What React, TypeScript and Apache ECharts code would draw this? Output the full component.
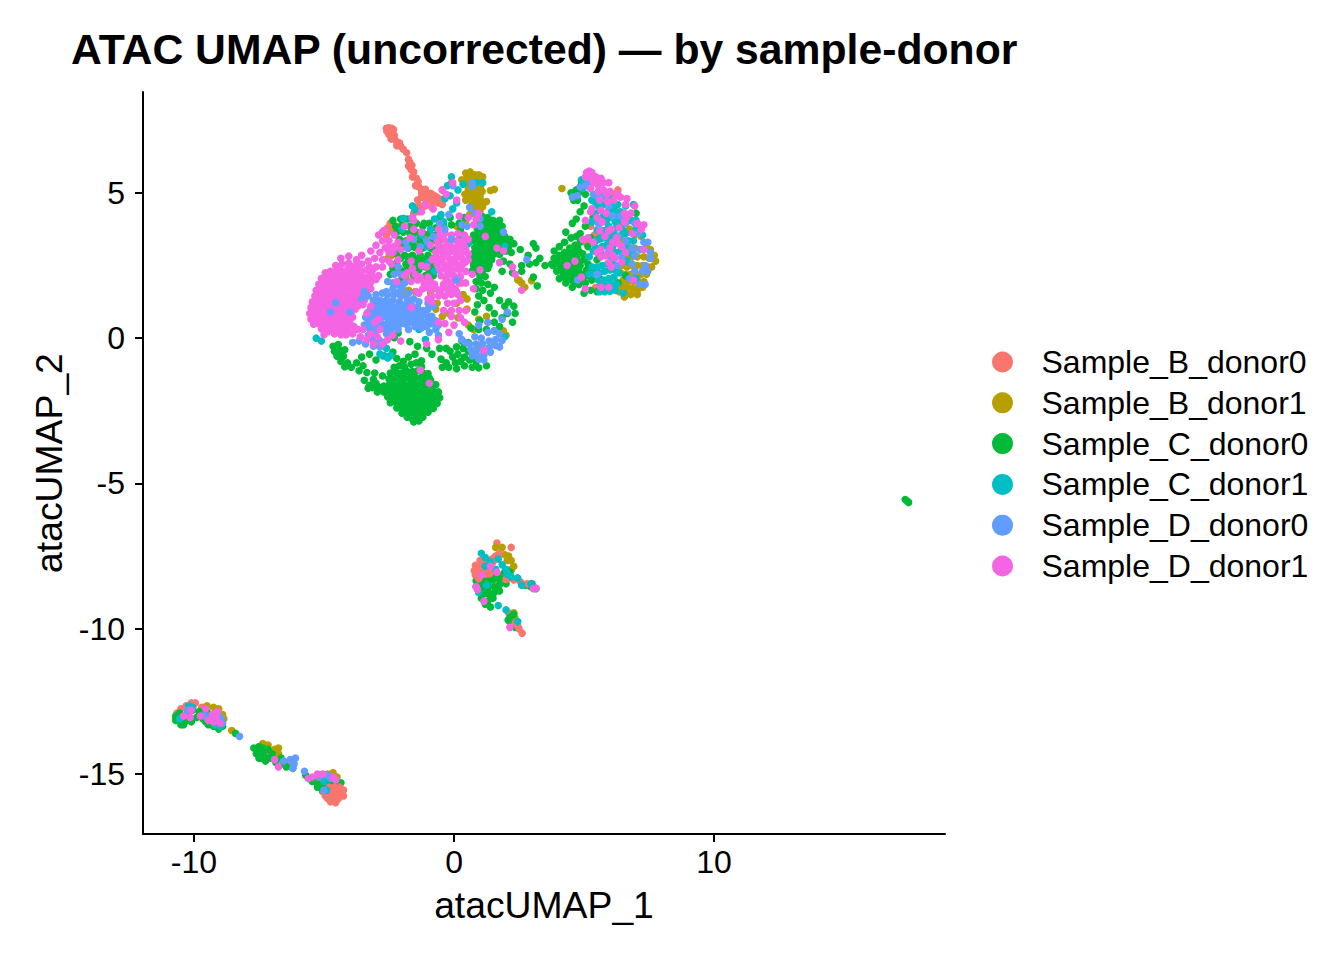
import React, { useEffect, useRef } from "react";
import * as echarts from "echarts";

const titleText = "ATAC UMAP (uncorrected) — by sample-donor";
const xTicks = [-10, 0, 10];
const yTicks = [-15, -10, -5, 0, 5];
const sampleNames = ["Sample_B_donor0", "Sample_B_donor1", "Sample_C_donor0", "Sample_C_donor1", "Sample_D_donor0", "Sample_D_donor1"];
const sampleColors = ["#F8766D", "#B79F00", "#00BA38", "#00BFC4", "#619CFF", "#F564E3"];

const sampleB0 = [
[-2.6,7.22],[-2.5,7.24],[-2.4,7.22],[-2.33,7.18],[-2.58,7.12],[-2.46,7.12],[-2.36,7.08],[-2.5,7.0],[-2.4,6.95],[-2.3,6.98],[-2.42,6.85],[-2.28,6.85],[-2.2,6.75],[-2.1,6.72],[-2.2,6.62],[-2.05,6.6],[-1.95,6.5],[-1.82,6.38],[-1.75,6.15],[-1.7,6.05],[-1.75,5.92],[-1.62,5.95],[-1.65,5.8],[-1.55,5.72],[-1.6,5.55],[-1.45,5.5],[-1.38,5.38],[-1.48,5.25],[-1.35,5.2],[-1.2,5.1],[-1.1,5.12],[-1.25,5.0],[-1.05,5.0],[-0.9,4.98],[-0.78,4.92],[-0.65,4.85],[-0.5,4.78],[-1.4,4.75],[-1.25,4.85],[-1.1,4.78],[-0.95,4.75],[-0.8,4.7],[-0.6,4.65],[-0.45,4.6],[-1.5,4.5],[-1.3,4.55],[-1.1,4.55],[-0.85,4.5],[-1.55,4.3],[-1.35,4.35],
[-2.45,3.95],[-2.55,3.8],[-2.35,3.85],[-2.75,3.65],[-2.6,3.55],[-2.45,3.7],[0.3,1.9],[2.5,2.0],
[4.85,5.2],[5.35,5.55],[5.55,5.4],[5.8,4.1],[5.25,3.85],[5.7,3.7],[5.45,1.75],[6.2,4.4],[7.05,1.65],[6.3,5.1],[6.15,4.95],[5.4,3.55],[5.1,3.25],[5.95,3.3],
[1.65,-7.05],[2.2,-7.2],[2.1,-9.45],
[-10.65,-12.9],[-10.5,-12.75],[-10.3,-12.65],[-10.1,-12.55],[-9.95,-12.55],[-10.7,-13.05],[-9.7,-12.7],[-7.1,-14.25],[-6.8,-14.35],[-6.35,-14.65],
];

const sampleB0Top = [
[0.82,-7.82],[1.0,-7.75],[1.18,-7.78],[0.78,-8.0],[0.95,-7.95],[1.12,-7.95],[1.3,-7.92],[0.82,-8.15],[1.0,-8.12],[1.2,-8.12],[1.38,-8.1],[0.95,-8.28],[1.5,-7.7],[1.6,-7.5],[1.75,-7.42],[1.45,-7.6],[1.0,-7.65],[2.0,-8.3],[2.3,-8.32],[2.55,-8.38],[2.8,-8.45],[2.35,-9.8],[2.5,-10.0],[2.62,-10.15],[2.45,-9.9],
[-5.0,-15.62],[-4.8,-15.45],[-4.6,-15.45],[-4.4,-15.45],[-4.25,-15.55],[-4.95,-15.75],[-4.75,-15.65],[-4.55,-15.65],[-4.35,-15.68],[-4.25,-15.75],[-4.85,-15.85],[-4.65,-15.82],[-4.45,-15.85],[-4.75,-15.95],[-4.55,-15.98],
];

const sampleB1 = [
[0.45,5.68],[0.62,5.72],[0.8,5.62],[0.95,5.62],[1.1,5.55],[0.3,5.45],[0.5,5.5],[0.7,5.5],[0.9,5.45],[1.05,5.4],[0.5,5.3],[0.7,5.3],[0.88,5.28],[1.02,5.22],[1.4,5.08],[0.55,5.12],[0.72,5.1],[0.9,5.08],[1.08,5.05],[0.42,4.95],[0.6,4.92],[0.8,4.92],[1.0,4.88],[0.45,4.75],[0.65,4.72],[0.85,4.72],[1.05,4.72],[1.25,4.7],[0.7,4.55],[0.9,4.55],[1.1,4.52],[0.8,4.35],[1.0,4.35],[-0.1,5.35],[-0.45,5.1],[1.55,5.12],
[2.98,1.98],[2.72,1.75],[2.6,1.9],[2.45,2.0],[-2.4,2.85],[-2.1,2.4],[-1.55,3.15],[-1.75,2.8],[-0.6,3.25],[-1.35,3.4],[-1.4,3.15],[-0.3,2.0],[0.1,1.2],[0.5,1.0],[0.95,0.65],[1.05,-0.25],[1.55,-0.2],[-0.9,1.55],[-0.65,1.2],[-2.1,1.9],[-1.85,2.1],[-1.75,1.65],[-0.45,0.75],[1.9,0.25],
[-2.55,2.75],[-2.2,2.35],[-2.0,1.75],[-1.85,1.5],[-1.5,1.6],[-0.7,1.0],[-0.2,0.85],[0.15,0.7],[0.35,1.5],[0.5,1.35],[0.55,0.45],[0.75,0.3],[1.25,0.75],[2.0,0.1],[-1.15,3.55],[-1.0,3.25],[-0.8,3.05],[-1.55,3.6],[0.45,4.0],[0.6,4.25],[0.1,3.85],[-2.85,0.6],[-2.5,0.3],
[4.15,5.15],[6.45,3.55],[6.5,3.3],[6.75,3.75],[6.95,3.55],[7.2,3.5],[7.4,3.25],[7.55,3.05],[7.7,2.85],[7.75,2.65],[6.55,3.05],[6.75,3.1],[6.95,3.1],[7.15,3.05],[6.65,2.75],[6.85,2.8],[7.05,2.8],[7.3,2.8],[7.5,2.75],[6.45,2.5],[6.65,2.45],[6.85,2.5],[7.05,2.5],[7.25,2.5],[7.45,2.45],[7.6,2.45],[6.4,2.25],[6.6,2.2],[6.8,2.2],[7.0,2.2],[7.2,2.2],[7.4,2.2],[6.5,2.0],[6.7,1.95],[6.9,1.95],[7.1,1.95],[7.3,1.95],[6.45,1.8],[6.65,1.75],[6.85,1.72],[7.05,1.72],[7.25,1.75],[6.35,1.6],[6.6,1.55],[6.8,1.5],[7.05,1.5],[6.55,1.42],[6.3,1.7],
[1.6,-7.2],[1.85,-7.2],[2.1,-7.5],[2.2,-7.65],[2.3,-7.85],[2.05,-7.65],[1.95,-7.45],[2.22,-7.95],[1.7,-7.45],[2.1,-8.25],[2.3,-9.45],[2.35,-9.65],
[-9.25,-12.7],[-9.05,-12.75],[-9.5,-12.65],[-8.9,-12.95],[-8.85,-13.1],[-9.45,-12.95],[-8.55,-13.5],[-7.35,-13.95],[-7.15,-14.0],[-6.9,-14.15],[-6.75,-14.1],[-6.75,-14.3],[-5.1,-15.05],[-4.85,-15.0],[-4.65,-14.95],[-4.5,-15.1],[-5.2,-15.2],[-5.0,-15.25],[-4.7,-15.2],
];

const sampleC0 = [
[-4.65,-0.28],[-4.45,-0.22],[-4.6,-0.45],[-4.4,-0.42],[-4.2,-0.4],[-4.5,-0.62],[-4.25,-0.62],[-4.35,-0.8],[-4.1,-0.85],[-4.2,-0.98],[-3.95,-1.0],[-3.75,-0.85],[-3.5,-0.95],[-3.65,-1.12],[-3.35,-1.18],[-3.45,-1.45],[-3.1,-1.42],[-3.25,-1.62],[-3.0,-1.55],[-3.05,-1.2],[-2.75,-1.3],[-3.55,-0.65],[-3.25,-0.55],[-3.0,-0.75],[-2.7,-0.6],[-2.35,-0.48],[-2.2,-0.7],[-1.95,-0.8],[-1.75,-0.65],[-1.5,-0.55],[-1.25,-0.78],[-1.05,-0.35],[-0.85,-0.55],[-2.3,0.02],[-2.15,0.18],[-1.7,-0.12],[-1.4,-0.28],
[-2.3,-1.0],[-2.1,-0.95],[-1.9,-1.0],[-1.65,-0.9],[-1.45,-0.85],[-1.25,-0.98],[-2.45,-1.2],[-2.2,-1.18],[-2.0,-1.2],[-1.8,-1.15],[-1.6,-1.15],[-1.4,-1.12],[-1.2,-1.2],[-1.0,-1.22],[-3.15,-1.7],[-2.9,-1.68],[-2.7,-1.65],[-2.5,-1.4],[-2.3,-1.4],[-2.1,-1.4],[-1.9,-1.38],[-1.7,-1.38],[-1.5,-1.35],[-1.3,-1.38],[-1.1,-1.42],[-0.9,-1.45],[-3.3,-1.72],[-2.95,-1.85],[-2.7,-1.85],[-2.5,-1.6],[-2.3,-1.62],[-2.1,-1.6],[-1.9,-1.6],[-1.7,-1.58],[-1.5,-1.58],[-1.3,-1.58],[-1.1,-1.6],[-0.9,-1.62],[-0.7,-1.6],[-0.95,-1.38],[-2.6,-1.82],[-2.4,-1.82],[-2.2,-1.82],[-2.0,-1.8],[-1.8,-1.8],[-1.6,-1.8],[-1.4,-1.78],[-1.2,-1.8],[-1.0,-1.82],[-0.8,-1.82],[-0.6,-1.85],[-2.55,-2.02],[-2.35,-2.02],[-2.15,-2.0],[-1.95,-2.0],[-1.75,-2.0],[-1.55,-2.0],[-1.35,-2.0],[-1.15,-2.0],[-0.95,-2.02],[-0.75,-2.02],[-0.55,-2.05],[-2.45,-2.22],[-2.25,-2.2],[-2.05,-2.2],[-1.85,-2.2],[-1.65,-2.2],[-1.45,-2.2],[-1.25,-2.2],[-1.05,-2.2],[-0.85,-2.22],[-0.65,-2.25],[-2.2,-2.4],[-2.0,-2.4],[-1.8,-2.4],[-1.6,-2.4],[-1.4,-2.4],[-1.2,-2.4],[-1.0,-2.4],[-0.8,-2.42],[-2.0,-2.58],[-1.8,-2.58],[-1.6,-2.6],[-1.4,-2.58],[-1.2,-2.58],[-1.0,-2.55],[-1.8,-2.72],[-1.6,-2.78],[-1.4,-2.75],[-1.2,-2.72],[-1.55,-2.88],[-1.35,-2.85],
[-2.05,-1.3],[-1.6,-1.28],[-1.2,-1.3],[-2.4,-1.5],[-2.0,-1.5],[-1.6,-1.48],[-1.2,-1.48],[-2.5,-1.72],[-2.1,-1.72],[-1.7,-1.7],[-1.3,-1.7],[-0.9,-1.72],[-2.3,-1.92],[-1.9,-1.9],[-1.5,-1.9],[-1.1,-1.9],[-0.7,-1.92],[-2.15,-2.1],[-1.75,-2.1],[-1.35,-2.1],[-0.95,-2.12],[-2.1,-2.3],[-1.7,-2.3],[-1.3,-2.3],[-0.9,-2.32],[-1.9,-2.5],[-1.5,-2.5],[-1.1,-2.5],[-1.7,-2.68],[-1.3,-2.65],
[-0.5,-0.72],[-0.3,-0.85],[-0.45,-1.0],[-0.2,-1.0],[-0.05,-0.65],[0.15,-0.55],[0.05,-0.85],[0.25,-0.8],[0.4,-0.65],[0.55,-0.45],[0.6,-0.75],[0.85,-0.8],[1.05,-0.7],[1.25,-0.95],[0.95,-1.02],[0.7,-1.0],[0.4,-0.95],[0.1,-1.05],[-0.15,-0.45],[0.1,-0.3],[0.35,-0.35],[-0.55,-0.35],[-0.3,-0.35],[0.3,-0.1],[0.55,-0.15],
[0.95,4.12],[1.1,4.18],[1.3,4.15],[1.5,4.05],[1.75,4.05],[1.0,3.95],[1.2,3.95],[1.4,3.9],[1.65,3.85],[1.85,3.85],[0.9,3.75],[1.1,3.72],[1.3,3.72],[1.5,3.7],[1.7,3.65],[0.75,3.55],[0.95,3.52],[1.15,3.52],[1.35,3.5],[1.55,3.5],[1.75,3.48],[1.95,3.5],[2.15,3.4],[0.65,3.35],[0.85,3.32],[1.05,3.32],[1.25,3.3],[1.45,3.3],[1.65,3.3],[1.85,3.32],[2.05,3.25],[2.3,3.25],[0.8,3.12],[1.0,3.12],[1.2,3.1],[1.4,3.1],[1.6,3.12],[1.8,3.1],[2.0,3.05],[0.75,2.92],[0.95,2.92],[1.15,2.9],[1.35,2.9],[1.55,2.9],[1.75,2.88],[0.65,2.72],[0.85,2.72],[1.05,2.7],[1.25,2.72],[1.45,2.7],[0.75,2.52],[0.95,2.5],[1.15,2.52],[1.35,2.52],[0.7,2.32],[0.9,2.3],[1.1,2.32],[1.3,2.4],[1.0,2.12],[1.2,2.12],[0.85,1.95],[1.05,1.9],[1.3,1.85],[1.55,1.75],[0.85,1.7],[1.1,1.65],[1.4,1.55],[0.95,1.45],[1.15,1.3],[1.75,1.3],[1.95,1.1],[0.9,1.15],[1.35,1.05],[1.55,0.85],[2.1,1.25],[2.3,1.1],[2.05,0.85],[2.35,0.85],[2.25,0.55],[1.85,0.7],[1.55,0.55],[1.0,0.6],[0.8,0.9],[0.65,0.35],[0.95,0.3],[1.25,0.3],[1.55,0.25],[1.75,0.4],
[1.3,4.02],[1.6,3.95],[1.2,3.62],[1.6,3.58],[1.05,3.42],[1.45,3.4],[1.85,3.42],[0.9,3.22],[1.3,3.2],[1.7,3.2],[2.1,3.15],[1.05,3.02],[1.45,3.0],[1.85,2.98],[0.95,2.82],[1.35,2.8],[0.85,2.62],[1.25,2.62],[0.85,2.42],[1.2,2.42],[1.0,2.22],
[2.0,3.0],[2.2,2.95],[2.55,3.05],[2.85,2.85],[3.15,3.1],[3.3,2.75],[1.9,2.65],[2.15,2.55],[2.6,2.5],[2.25,2.25],[2.6,2.3],[1.85,2.3],[2.9,2.55],[3.15,2.6],[3.05,3.25],[3.05,2.1],[3.75,2.55],[3.5,2.5],
[-2.35,4.05],[-2.05,4.1],[-1.8,4.1],[-2.25,3.85],[-2.0,3.9],[-1.7,3.85],[-1.45,3.95],[-1.2,3.85],[-0.95,3.95],[-0.7,3.8],[-0.4,3.85],[-0.1,3.9],[0.2,3.95],[-2.2,3.65],[-1.95,3.65],[-1.7,3.62],[-1.45,3.65],[-1.2,3.62],[-0.95,3.6],[-0.7,3.55],[-2.1,3.4],[-1.85,3.35],[-1.6,3.4],[-1.35,3.38],[-1.05,3.35],[-0.8,3.35],[-2.0,3.15],[-1.75,3.1],[-1.5,3.12],[-1.2,3.1],[-0.9,3.1],[-0.7,3.05],[-2.2,2.9],[-1.9,2.85],[-1.6,2.85],[-1.3,2.85],[-1.0,2.85],[-0.7,2.8],[-2.2,2.6],[-1.85,2.55],[-1.5,2.55],[-1.2,2.6],[-0.85,2.5],[-2.0,2.3],[-1.65,2.3],[-1.35,2.35],[-0.95,2.3],[-2.45,2.2],
[-2.0,3.25],[-1.6,3.25],[-1.2,3.25],[-2.05,2.75],[-1.75,2.72],[-1.4,2.72],[-1.1,2.72],[-2.35,2.4],[-1.8,2.42],[-1.45,2.42],[-1.1,2.45],[-2.0,2.05],[-1.55,2.15],[-1.1,2.15],[-0.8,2.15],[-1.15,3.95],[-0.55,4.15],[-0.15,4.15],[0.4,4.15],[0.25,3.72],
[3.85,3.0],[4.05,3.15],[4.25,3.3],[4.5,3.45],[4.7,3.5],[3.85,2.75],[4.05,2.85],[4.25,2.95],[4.45,3.1],[4.65,3.2],[4.85,3.3],[3.8,2.5],[4.0,2.55],[4.2,2.65],[4.4,2.75],[4.6,2.9],[4.8,3.0],[3.95,2.3],[4.15,2.35],[4.35,2.45],[4.55,2.55],[4.75,2.7],[4.05,2.05],[4.25,2.1],[4.45,2.25],[4.65,2.35],[4.85,2.5],[5.0,2.7],[4.3,1.9],[4.5,2.0],[4.7,2.1],[4.9,2.2],[5.1,2.35],[4.55,1.75],[4.8,1.85],[5.05,1.9],[5.3,2.0],[5.25,1.65],[5.5,1.6],[5.0,1.55],[5.6,2.05],[5.35,2.4],[5.5,2.7],
[3.95,2.65],[4.15,2.78],[4.35,2.88],[4.55,3.0],[4.75,3.12],[4.1,2.45],[4.3,2.55],[4.5,2.65],[4.7,2.8],[4.2,2.2],[4.4,2.35],[4.6,2.45],[4.8,2.6],[4.4,2.1],[4.6,2.2],[4.8,2.35],[4.65,1.95],[4.95,2.05],[5.15,2.15],[4.95,2.9],[5.15,2.55],
[4.3,3.65],[4.55,3.95],[4.7,4.1],[4.85,3.6],[5.05,3.85],[5.25,3.45],[5.15,3.15],[4.85,4.35],[5.0,4.55],[4.75,4.75],[4.5,5.0],[4.7,5.1],[4.85,5.05],[4.9,5.3],[5.05,4.95],[4.6,4.75],[5.35,4.15],[5.55,3.4],[5.8,2.85],[6.45,3.85],[6.75,4.05],[7.0,4.3],[6.6,2.15],[6.3,1.9],[3.2,1.8],
[0.9,-8.25],[1.1,-8.25],[1.3,-8.25],[1.5,-8.12],[1.7,-8.15],[1.95,-8.05],[2.15,-8.05],[0.85,-8.35],[1.05,-8.4],[1.3,-8.45],[1.5,-8.32],[1.75,-8.3],[1.95,-8.25],[0.85,-8.55],[1.05,-8.58],[1.3,-8.62],[1.55,-8.55],[1.75,-8.48],[2.0,-8.45],[0.95,-8.72],[1.15,-8.8],[1.35,-8.82],[1.55,-8.75],[1.75,-8.7],[1.05,-8.95],[1.3,-9.05],[1.5,-8.95],[1.2,-9.15],[1.4,-9.25],[2.75,-8.5],[2.95,-8.55],[3.15,-8.62],[3.0,-8.45],[2.08,-9.7],[2.2,-9.85],[2.35,-9.95],[2.3,-9.5],[2.15,-9.6],
[-10.7,-13.0],[-10.55,-12.9],[-10.7,-13.15],[-10.55,-13.15],[-10.5,-13.3],[-10.35,-13.2],[-10.3,-13.05],[-10.2,-12.7],[-10.05,-12.8],[-9.5,-12.85],[-9.35,-13.0],[-9.55,-13.2],[-9.35,-13.2],[-9.15,-13.1],[-8.95,-13.2],[-8.9,-13.35],
[-10.4,-13.3],[-10.1,-13.2],[-9.9,-13.05],[-9.8,-12.85],[-9.65,-13.1],[-9.45,-13.3],[-9.25,-13.35],[-9.05,-13.45],[-10.25,-12.9],[-7.6,-14.3],[-7.5,-14.45],[-7.25,-14.55],[-7.05,-14.45],[-6.85,-14.6],
[-8.4,-13.6],[-7.7,-14.1],[-7.5,-14.05],[-7.35,-14.1],[-7.55,-14.2],[-7.35,-14.3],[-7.15,-14.15],[-7.4,-14.45],[-7.2,-14.45],[-7.0,-14.3],[-6.9,-14.5],[-6.65,-14.45],[-6.55,-14.65],[-6.45,-14.75],[-6.2,-14.8],[-5.7,-15.05],[-5.45,-15.15],[-5.25,-15.35],[-5.0,-15.4],[-5.05,-15.6],[-5.25,-15.45],[-4.9,-15.2],[-4.75,-15.4],[-4.55,-15.35],[-4.35,-15.3],[-4.85,-15.75],[-4.95,-15.55],[-4.75,-15.25],[-5.45,-15.25],
[17.35,-5.55],[17.42,-5.6],[17.48,-5.65],
];

const sampleC1 = [
[-1.95,4.12],[-1.65,4.12],[-1.5,4.42],[-2.0,3.75],[-1.25,3.55],[-0.9,3.75],[-0.55,3.55],[-0.75,4.1],[-0.4,4.0],[-0.35,4.8],[-0.15,4.9],[0.1,4.65],[-0.05,4.45],[0.35,5.3],[0.15,5.1],[-0.1,5.55],[-0.25,5.25],[0.85,5.35],[1.1,5.35],[-1.05,3.15],[-1.0,2.6],[-0.75,2.3],[0.2,3.4],[0.55,3.25],[1.95,3.15],[-1.6,4.55],[-0.5,4.25],[1.45,4.35],
[-5.3,0.0],[-5.1,-0.1],[-2.6,-0.35],[-2.75,-0.6],[-2.85,-0.55],[-2.45,-0.6],[-2.55,-0.68],[-1.35,0.3],[-1.1,-0.05],[1.95,0.05],
[4.9,5.45],[5.1,5.3],[4.95,5.15],[5.3,4.75],[5.55,4.55],[5.75,4.2],[5.95,4.4],[5.45,4.1],[6.1,4.6],[5.95,3.85],[6.2,4.0],[6.4,4.35],[6.6,4.55],[6.85,4.05],[5.65,3.6],[6.15,3.6],[5.9,3.4],[6.35,3.5],[6.6,3.6],[7.0,3.75],[6.1,3.15],[5.7,3.15],[6.55,3.15],[7.25,3.55],
[5.75,4.95],[5.95,4.85],[5.45,4.65],[6.15,4.4],[6.0,4.15],[5.85,4.0],[5.6,3.95],[6.4,4.05],[6.25,3.8],[5.8,3.7],[6.05,3.5],[5.85,3.2],[5.45,3.35],[6.2,2.95],[6.0,2.85],[6.4,3.0],[6.7,3.35],[6.85,2.9],[5.35,3.0],[5.55,2.95],
[5.45,4.9],[6.3,4.6],[5.75,4.6],[6.9,4.6],[5.45,4.3],[6.25,4.25],[7.0,4.05],[5.3,4.0],[5.5,3.72],[6.5,3.7],[5.65,3.42],[6.9,3.35],[5.45,3.12],[6.8,3.1],[5.2,2.8],
[5.3,2.45],[5.5,2.45],[5.7,2.5],[5.9,2.55],[6.1,2.6],[5.2,2.2],[5.4,2.2],[5.6,2.25],[5.8,2.3],[6.0,2.35],[6.2,2.35],[5.55,2.0],[5.75,2.0],[5.95,2.05],[6.15,2.1],[6.35,2.25],[5.65,1.8],[5.85,1.8],[6.05,1.85],[6.25,1.85],[5.6,1.6],[5.8,1.6],[6.0,1.62],[6.2,1.65],[6.5,1.55],[7.0,2.05],[6.65,2.65],
[1.05,-7.4],[1.2,-7.55],[1.4,-7.7],[1.7,-7.6],[1.85,-7.8],[1.2,-7.85],[2.0,-7.95],[2.05,-8.12],[2.2,-8.22],[1.6,-7.95],[0.95,-8.75],[1.25,-8.5],[1.7,-9.2],[2.45,-8.25],[2.6,-8.5],[2.95,-8.45],[2.0,-9.35],[2.45,-9.75],
[-10.15,-12.75],[-10.2,-12.65],[-10.05,-12.7],[-10.55,-13.1],[-9.55,-12.95],[-9.2,-13.3],[-9.0,-13.35],[-5.0,-15.25],[-4.9,-15.55],
];

const sampleD1 = [
[-4.35,2.75],[-4.05,2.82],[-3.75,2.7],[-3.55,2.85],[-4.55,2.5],[-4.3,2.55],[-4.05,2.58],[-3.8,2.5],[-3.55,2.55],[-3.3,2.65],[-3.05,2.75],[-2.85,2.95],[-2.65,3.1],[-3.0,3.2],[-2.75,3.35],[-2.9,3.55],[-2.7,3.7],[-2.5,3.35],[-2.3,3.15],[-3.2,3.0],[-2.5,2.95],[-2.75,2.7],[-2.5,2.65],[-3.0,2.45],[-2.75,2.45],
[-4.95,2.25],[-4.75,2.3],[-4.55,2.3],[-4.35,2.32],[-4.15,2.32],[-3.95,2.3],[-3.75,2.3],[-3.55,2.3],[-3.35,2.35],[-3.15,2.3],[-5.1,2.05],[-4.9,2.08],[-4.7,2.1],[-4.5,2.1],[-4.3,2.12],[-4.1,2.12],[-3.9,2.1],[-3.7,2.1],[-3.5,2.1],[-3.3,2.12],[-3.1,2.1],[-2.9,2.15],
[-5.2,1.85],[-5.0,1.88],[-4.8,1.9],[-4.6,1.9],[-4.4,1.92],[-4.2,1.92],[-4.0,1.9],[-3.8,1.9],[-3.6,1.9],[-3.4,1.9],[-3.2,1.92],[-5.3,1.65],[-5.1,1.68],[-4.9,1.7],[-4.7,1.7],[-4.5,1.72],[-4.3,1.72],[-4.1,1.7],[-3.9,1.7],[-3.7,1.7],[-3.5,1.72],[-3.3,1.72],[-5.35,1.45],[-5.15,1.48],[-4.95,1.5],[-4.75,1.5],[-4.55,1.52],[-4.35,1.52],[-4.15,1.5],[-3.95,1.5],[-3.75,1.5],[-3.55,1.52],[-3.35,1.5],
[-5.45,1.25],[-5.25,1.28],[-5.05,1.3],[-4.85,1.3],[-4.65,1.32],[-4.45,1.32],[-4.25,1.3],[-4.05,1.3],[-3.85,1.3],[-3.65,1.3],[-3.45,1.3],[-5.5,1.05],[-5.3,1.08],[-5.1,1.1],[-4.9,1.1],[-4.7,1.12],[-4.5,1.12],[-4.3,1.1],[-4.1,1.1],[-3.9,1.1],[-3.7,1.1],[-5.55,0.85],[-5.35,0.88],[-5.15,0.9],[-4.95,0.9],[-4.75,0.92],[-4.55,0.92],[-4.35,0.9],[-4.15,0.9],[-3.95,0.9],[-5.5,0.65],[-5.3,0.68],[-5.1,0.7],[-4.9,0.7],[-4.7,0.72],[-4.5,0.72],[-4.3,0.7],[-4.1,0.7],[-3.9,0.72],[-5.4,0.48],[-5.2,0.5],[-5.0,0.5],[-4.8,0.52],[-4.6,0.52],[-4.4,0.5],[-4.2,0.5],[-4.0,0.5],[-5.1,0.32],[-4.9,0.32],[-4.7,0.33],[-4.5,0.3],[-4.3,0.3],[-4.1,0.3],[-3.85,0.4],[-5.0,0.12],[-4.6,0.15],[-4.35,0.12],[-4.15,0.12],[-3.9,0.15],[-3.7,0.3],
[-4.45,2.42],[-4.05,2.42],[-3.65,2.42],[-3.25,2.45],[-4.8,2.18],[-4.4,2.2],[-4.0,2.2],[-3.6,2.2],[-3.2,2.2],[-5.0,1.98],[-4.6,2.0],[-4.2,2.02],[-3.8,2.0],[-3.4,2.0],[-3.0,2.02],[-5.1,1.78],[-4.7,1.8],[-4.3,1.82],[-3.9,1.8],[-3.5,1.8],[-5.2,1.58],[-4.8,1.6],[-4.4,1.62],[-4.0,1.6],[-3.6,1.62],[-5.25,1.38],[-4.85,1.4],[-4.45,1.42],[-4.05,1.4],[-3.65,1.4],[-5.35,1.18],[-4.95,1.2],[-4.55,1.22],[-4.15,1.2],[-3.75,1.2],[-5.4,0.98],[-5.0,1.0],[-4.6,1.02],[-4.2,1.0],[-3.8,1.0],[-5.45,0.78],[-5.05,0.8],[-4.65,0.82],[-4.25,0.8],[-5.4,0.58],[-5.0,0.6],[-4.6,0.62],[-4.2,0.6],[-5.1,0.42],[-4.7,0.42],[-4.3,0.4],[-4.85,0.22],[-4.45,0.22],[-4.05,0.22],
[-0.55,3.55],[-0.35,3.6],[-0.1,3.55],[0.15,3.6],[0.4,3.55],[-0.65,3.35],[-0.4,3.4],[-0.15,3.35],[0.1,3.35],[0.35,3.35],[0.55,3.4],[-0.6,3.15],[-0.35,3.15],[-0.1,3.15],[0.15,3.15],[0.4,3.15],[-0.7,2.95],[-0.45,2.95],[-0.2,2.95],[0.05,2.95],[0.3,2.95],[0.55,2.9],[-0.7,2.75],[-0.45,2.75],[-0.2,2.75],[0.05,2.75],[0.3,2.75],[0.55,2.7],[-0.65,2.55],[-0.4,2.55],[-0.15,2.55],[0.1,2.55],[0.35,2.55],[-0.55,2.35],[-0.3,2.35],[-0.05,2.35],[0.2,2.35],[0.45,2.3],[-0.5,2.15],[-0.25,2.15],[0.0,2.15],[0.25,2.12],[-0.3,1.95],[-0.05,1.95],[0.2,1.9],[0.45,1.9],[-0.9,1.95],[-1.15,1.9],[-1.4,2.0],[-1.65,1.95],[-1.2,1.7],[-0.95,1.7],[-0.7,1.7],[-0.45,1.7],[-0.2,1.7],[0.05,1.7],[-0.85,1.45],[-0.6,1.45],[-0.35,1.45],[-0.1,1.5],[0.15,1.5],[-1.35,1.55],[-0.25,1.2],[0.0,1.2],[0.25,1.3],[-0.1,0.95],[0.2,0.95],[0.45,0.95],
[-0.2,3.25],[0.2,3.25],[-0.55,3.05],[-0.05,3.05],[0.45,3.05],[-0.3,2.85],[0.2,2.85],[-0.55,2.65],[-0.05,2.65],[0.45,2.62],[-0.2,2.45],[0.25,2.45],[-0.15,2.25],[-0.75,1.85],[-0.4,1.85],[-0.1,1.82],[-1.1,1.8],[-0.55,1.58],[-0.2,1.6],[0.1,1.6],
];

const sampleD0 = [
[-3.45,1.6],[-3.55,1.35],[-3.3,1.45],[-3.1,1.3],[-2.55,1.95],[-2.3,2.2],[-2.15,1.85],[-2.35,1.7],[-2.1,1.6],[-1.9,1.9],[-2.0,1.7],[-1.75,1.55],[-1.55,1.35],[-1.35,1.25],[-2.55,1.5],[-2.3,1.5],[-2.05,1.45],[-1.8,1.35],[-2.85,1.3],[-2.6,1.3],[-2.35,1.3],[-2.1,1.25],[-1.85,1.15],[-1.6,1.1],[-1.4,1.05],[-3.0,1.1],[-2.8,1.12],[-2.6,1.1],[-2.4,1.1],[-2.2,1.08],[-2.0,1.05],[-1.8,0.98],[-1.6,0.92],[-1.4,0.88],[-1.2,0.95],[-1.0,1.0],[-0.8,1.1],[-3.2,1.05],[-3.3,0.9],[-3.05,0.92],[-2.85,0.92],[-2.65,0.92],[-2.45,0.9],[-2.25,0.9],[-2.05,0.88],[-1.85,0.85],[-1.65,0.78],[-1.45,0.72],[-1.25,0.75],[-1.05,0.8],[-3.4,0.72],[-3.2,0.72],[-3.0,0.72],[-2.8,0.72],[-2.6,0.72],[-2.4,0.72],[-2.2,0.72],[-2.0,0.7],[-1.8,0.62],[-1.6,0.6],[-1.4,0.55],[-1.2,0.55],[-3.3,0.52],[-3.05,0.5],[-2.8,0.5],[-2.55,0.52],[-2.3,0.52],[-2.05,0.5],[-1.85,0.48],[-3.25,0.32],[-2.9,0.33],[-2.65,0.32],[-2.4,0.35],[-2.15,0.3],[-0.85,0.5],[-0.7,0.3],[-0.95,0.2],[-0.6,0.1],
[-2.9,1.02],[-2.5,1.0],[-2.1,0.98],[-1.7,0.95],[-1.3,0.85],[-3.1,0.82],[-2.7,0.82],[-2.3,0.82],[-1.9,0.78],[-1.5,0.65],[-2.9,0.62],[-2.5,0.62],[-2.1,0.6],[-1.7,0.55],[-3.15,0.42],[-2.7,0.42],[-2.3,0.42],[-2.45,1.2],[-2.0,1.15],[-1.7,1.25],
[-1.0,0.6],[-0.85,0.75],[-0.7,0.6],[-1.05,0.4],[-1.25,0.35],[-1.5,0.4],[-0.6,0.45],[-1.0,1.2],[-2.6,1.6],[-2.35,1.9],[-2.75,1.55],[-3.0,1.5],[-3.1,0.2],[-2.6,0.15],[-2.4,0.15],[-2.9,-0.05],[-3.4,-0.2],[-3.45,0.45],
[-3.3,0.1],[-3.15,-0.05],[-3.05,0.15],[-2.85,-0.1],[-3.65,-0.1],[-3.9,-0.15],[-3.1,-0.28],[-2.85,-0.3],[-2.7,-0.15],[-4.0,0.9],[-4.75,0.9],[-4.55,1.22],[-1.75,0.3],
[0.8,0.05],[1.05,0.0],[1.3,0.2],[1.55,0.25],[1.75,0.15],[0.6,-0.2],[0.85,-0.2],[1.1,-0.2],[1.35,-0.1],[1.6,-0.05],[1.85,-0.08],[0.65,-0.4],[0.85,-0.42],[1.1,-0.4],[1.35,-0.32],[1.6,-0.25],[1.75,-0.3],[0.7,-0.6],[0.95,-0.62],[1.15,-0.58],[1.4,-0.48],[0.95,-0.72],[1.15,-0.75],[0.2,0.15],[0.3,-0.05],[0.45,-0.15],[0.95,0.45],[1.3,0.55],[1.85,0.65],[2.05,0.9],
[-0.05,5.25],[0.7,5.35],[0.7,5.22],[0.6,4.5],[0.8,4.3],[1.0,4.1],[1.0,3.85],[-0.2,4.25],[-0.1,3.4],[-1.55,3.4],[-1.85,3.3],[-1.8,3.1],[-1.3,3.15],[-1.05,3.35],[-0.8,3.5],[-2.15,2.45],[-2.05,2.2],[0.1,2.0],[0.5,3.85],[0.3,3.9],[-0.55,3.95],[-0.35,3.75],[2.8,2.7],[1.9,3.65],
[4.75,4.9],[4.55,4.85],[5.05,5.25],[4.85,5.2],[5.2,5.35],[5.35,4.95],[5.55,4.85],[5.75,4.85],[5.95,4.55],[6.1,4.2],[5.55,3.95],[6.4,4.2],[6.6,3.95],[6.95,3.95],[7.1,3.6],[7.3,3.3],[7.15,3.05],[7.55,2.75],[7.35,2.5],[7.55,2.95],[7.45,3.3],[7.45,2.3],[7.25,2.3],[6.6,3.35],[6.85,3.1],[6.95,2.85],[6.3,3.5],[5.95,3.0],[6.45,2.8],[6.85,2.55],[6.95,2.3],[6.75,2.05],[7.15,1.85],[7.35,1.85],[6.3,2.5],[4.75,2.0],[5.5,2.2],
[-10.15,-13.05],[-10.25,-12.8],[-9.6,-13.0],[-9.05,-13.0],[-8.95,-13.1],[-8.9,-13.25],[-8.25,-13.7],[-6.15,-14.65],[-6.55,-14.55],[-6.3,-14.5],[-6.1,-14.45],[-5.2,-15.1],[-4.85,-15.05],[-4.75,-15.15],[-5.0,-15.55],[-5.75,-14.9],[-6.2,-14.8],
];

const sampleD1Top = [
[-3.5,1.95],[-3.2,1.7],[-3.5,1.15],[-3.2,1.1],[-3.35,0.85],[-3.05,0.55],[-3.5,0.3],[-3.2,0.15],[-3.35,-0.05],[-3.1,-0.2],[-2.95,0.05],[-2.75,-0.2],[-2.55,-0.05],[-3.6,0.05],[-2.85,0.3],[-2.9,0.65],[-2.2,1.95],[-1.9,2.15],[-1.6,2.4],[-1.3,2.1],[-1.05,2.45],[-2.15,2.7],[-2.4,2.55],[-2.15,3.3],[-1.7,3.45],[-1.25,3.65],[-1.6,4.15],[-1.55,4.05],[-1.25,4.35],[-1.1,4.6],[-0.8,4.45],[-0.45,5.1],[-0.3,4.95],[-0.05,5.35],[0.1,4.75],[0.55,4.15],[0.85,4.1],[0.75,3.9],[0.2,4.2],[0.95,4.3],[1.2,3.5],[1.0,2.35],[0.7,2.2],[0.75,1.7],[1.65,3.1],[1.9,3.0],[1.75,2.6],[2.25,2.45],[2.35,2.2],[2.6,1.65],[-0.85,1.25],[-0.4,0.95],[-0.1,0.75],[0.25,0.7],[0.4,0.55],[0.0,0.45],[-0.2,0.2],[-0.6,0.55],[-1.0,1.35],[-1.45,1.6],[-1.65,1.05],[-1.05,-0.2],[-0.6,-0.05],[-2.05,-0.1],[-0.35,0.5],[1.15,-0.42],[-1.3,-1.1],[-0.95,-1.55],[-2.35,0.1],
[-1.9,3.85],[-1.55,3.75],[-0.6,3.75],[-2.3,3.55],[-2.05,3.05],[-1.35,3.0],[-1.65,2.65],[-1.25,2.5],[-2.55,3.15],[-2.35,2.95],[-1.8,2.25],[-1.5,2.2],[-1.0,2.1],[-0.85,2.7],[-0.9,3.2],
[5.1,5.7],[5.2,5.75],[5.3,5.7],[5.05,5.55],[5.25,5.55],[5.45,5.55],[5.65,5.5],[5.35,5.35],[5.55,5.25],[5.75,5.35],[5.95,5.35],[5.25,5.15],[5.55,5.05],[5.75,5.1],[6.0,5.05],[5.6,4.75],[5.3,4.45],[5.65,4.4],[5.9,4.7],[6.15,4.75],[6.4,4.85],[6.65,4.8],[6.95,4.55],[6.55,4.3],[6.8,4.3],[5.5,4.15],[5.05,4.05],[5.25,4.35],[4.95,3.4],[5.15,3.45],[5.35,3.3],[5.6,3.7],[5.8,3.5],[6.05,3.75],[6.35,3.8],[6.55,4.0],[6.1,3.3],[5.65,3.05],[5.85,2.85],[5.5,2.95],[6.3,3.25],[6.6,2.95],[6.85,3.6],[6.05,2.45],[5.95,2.6],[6.2,2.75],[5.65,1.75],[5.95,1.75],[6.9,2.0],[5.05,1.7],[4.35,2.5],[4.65,2.65],[4.9,2.1],
[5.9,4.95],[6.3,4.95],[6.6,4.6],[5.85,4.3],[6.65,4.15],[5.7,4.0],[7.05,3.95],[7.3,3.9],[5.95,3.7],[7.2,3.75],[6.25,3.45],[6.45,3.15],[6.0,3.1],[7.3,3.05],[5.65,2.8],[6.1,2.85],[6.45,2.62],
[1.05,-8.15],[0.85,-8.55],[0.9,-8.65],[1.4,-7.85],[1.65,-8.05],[1.15,-9.05],[3.15,-8.6],[3.05,-8.62],[2.15,-9.95],
[-10.15,-13.05],[-10.4,-13.0],[-10.1,-12.8],[-9.75,-13.0],[-9.55,-12.75],[-9.3,-12.95],[-9.1,-12.85],[-9.15,-13.05],[-9.25,-13.2],[-9.0,-13.25],[-9.45,-13.15],[-6.75,-14.75],[-6.9,-14.5],[-5.45,-15.1],[-5.25,-15.0],[-5.05,-15.0],[-5.6,-15.15],[-4.65,-15.1],[-4.55,-15.2],
];

const axisFont = "'Liberation Sans', Arial, sans-serif";

function buildSeries(name: string, color: string, values: number[][]) {
  return {
    name,
    type: "scatter",
    data: values,
    symbol: "circle",
    symbolSize: 7.6,
    itemStyle: { color, opacity: 1 },
    emphasis: { disabled: true },
    silent: true,
  };
}

export default function App() {
  const ref = useRef<HTMLDivElement>(null);
  useEffect(() => {
    if (!ref.current) return;
    const chart = echarts.init(ref.current, undefined, { renderer: "svg" });
    const axisCommon = {
      type: "value",
      nameLocation: "middle",
      splitLine: { show: false },
      axisLine: { show: true, onZero: false, lineStyle: { color: "#000", width: 2 } },
      nameTextStyle: { color: "#000", fontFamily: axisFont, fontSize: 37.3 },
    };
    chart.setOption({
      animation: false,
      backgroundColor: "#fff",
      title: {
        text: titleText,
        left: 71,
        top: 27,
        padding: 0,
        textStyle: { color: "#000", fontFamily: axisFont, fontWeight: "bold", fontSize: 42.7 },
      },
      grid: { left: 143, top: 92, width: 802, height: 742, containLabel: false },
      xAxis: {
        ...axisCommon,
        min: -11.96,
        max: 18.88,
        name: "atacUMAP_1",
        nameGap: 52,
        axisTick: { show: true, length: 8, customValues: xTicks, lineStyle: { color: "#000", width: 2 } },
        axisLabel: { color: "#000", fontFamily: axisFont, fontSize: 32, margin: 12, customValues: xTicks },
      },
      yAxis: {
        ...axisCommon,
        min: -17.06,
        max: 8.47,
        name: "atacUMAP_2",
        nameGap: 74,
        axisTick: { show: true, length: 8, customValues: yTicks, lineStyle: { color: "#000", width: 2 } },
        axisLabel: { color: "#000", fontFamily: axisFont, fontSize: 32, margin: 18, customValues: yTicks },
      },
      legend: {
        data: sampleNames.map((name) => ({ name, icon: "circle" })),
        orient: "vertical",
        left: 992,
        top: 346,
        padding: 0,
        itemWidth: 22,
        itemHeight: 21,
        itemGap: 8.8,
        selectedMode: false,
        textStyle: { color: "#000", fontFamily: axisFont, fontSize: 32, padding: [0, 0, 0, 23] },
      },
      series: [
        buildSeries(sampleNames[0], sampleColors[0], sampleB0),
        buildSeries(sampleNames[1], sampleColors[1], sampleB1),
        buildSeries(sampleNames[2], sampleColors[2], sampleC0),
        buildSeries(sampleNames[0], sampleColors[0], sampleB0Top),
        buildSeries(sampleNames[3], sampleColors[3], sampleC1),
        buildSeries(sampleNames[5], sampleColors[5], sampleD1),
        buildSeries(sampleNames[4], sampleColors[4], sampleD0),
        buildSeries(sampleNames[5], sampleColors[5], sampleD1Top),
      ],
    });
    return () => chart.dispose();
  }, []);
  return <div ref={ref} style={{ position: "fixed", left: 0, top: 0, width: 1344, height: 960, background: "#fff" }} />;
}
